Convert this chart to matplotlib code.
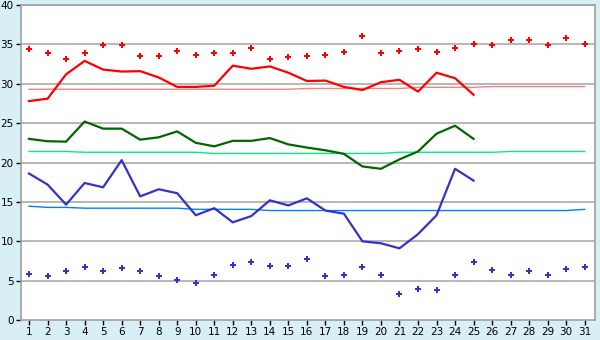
import matplotlib
matplotlib.use("Agg")
import matplotlib.pyplot as plt

days = list(range(1, 32))
days25 = list(range(1, 26))

red_points = [34.37, 33.86, 33.2, 33.86, 34.9, 34.9, 33.5, 33.5, 34.1, 33.7,
              33.86, 33.86, 34.6, 33.1, 33.35, 33.5, 33.6, 34.0, 36.0, 33.86,
              34.1, 34.37, 34.0, 34.6, 35.0, 34.9, 35.6, 35.6, 34.9, 35.77, 35.1]
red_line = [27.8, 28.1, 31.2, 32.9, 31.8, 31.55, 31.6, 30.8, 29.6, 29.6,
            29.75, 32.3, 31.9, 32.2, 31.4, 30.35, 30.4, 29.6, 29.2, 30.2,
            30.5, 29.0, 31.4, 30.7, 28.6]
red_normal = [29.3, 29.3, 29.3, 29.3, 29.3, 29.3, 29.3, 29.3, 29.3, 29.3,
              29.3, 29.3, 29.3, 29.3, 29.3, 29.4, 29.4, 29.4, 29.4, 29.4,
              29.4, 29.55, 29.55, 29.55, 29.55, 29.65, 29.65, 29.65, 29.65, 29.65, 29.65]

green_line = [23.0, 22.7, 22.65, 25.2, 24.3, 24.3, 22.9, 23.2, 23.95, 22.5,
              22.05, 22.75, 22.75, 23.1, 22.3, 21.9, 21.55, 21.1, 19.5, 19.2,
              20.4, 21.4, 23.66, 24.67, 23.0]
green_normal = [21.4, 21.4, 21.4, 21.3, 21.3, 21.3, 21.3, 21.3, 21.3, 21.3,
                21.15, 21.15, 21.15, 21.15, 21.15, 21.15, 21.15, 21.15, 21.15, 21.15,
                21.3, 21.3, 21.3, 21.3, 21.3, 21.3, 21.4, 21.4, 21.4, 21.4, 21.4]

blue_line = [18.6, 17.2, 14.65, 17.4, 16.85, 20.3, 15.7, 16.6, 16.1, 13.3,
             14.2, 12.4, 13.2, 15.2, 14.55, 15.45, 13.9, 13.5, 9.99, 9.74,
             9.1, 10.9, 13.3, 19.2, 17.7]
blue_normal = [14.45, 14.3, 14.3, 14.2, 14.2, 14.2, 14.2, 14.2, 14.2, 14.05,
               14.05, 14.05, 14.05, 13.9, 13.9, 13.9, 13.9, 13.9, 13.9, 13.9,
               13.9, 13.9, 13.9, 13.9, 13.9, 13.9, 13.9, 13.9, 13.9, 13.9, 14.05]
blue_points = [5.88, 5.54, 6.18, 6.69, 6.18, 6.56, 6.18, 5.54, 5.03, 4.65,
               5.67, 6.94, 7.32, 6.81, 6.81, 7.7, 5.54, 5.67, 6.69, 5.67,
               3.26, 3.9, 3.77, 5.67, 7.32, 6.3, 5.67, 6.18, 5.67, 6.43, 6.69]

yticks = [0, 5, 10, 15, 20, 25, 30, 35, 40]

bg = "#d9eff6"
fig = plt.figure(figsize=(6, 3.4), dpi=100, facecolor=bg)
ax = fig.add_axes([0.0345, 0.0588, 0.957, 0.9265])
ax.set_facecolor("white")

for y in yticks[1:]:
    ax.axhline(y, color="#aaaaaa", lw=1.2, zorder=1)

ax.plot(days, red_normal, color="#ff8080", lw=1.0, zorder=2)
ax.plot(days, green_normal, color="#00f080", lw=1.0, zorder=2)
ax.plot(days, blue_normal, color="#0080ff", lw=1.0, zorder=2)

ax.plot(days25, red_line, color="#ff0000", lw=1.6, zorder=3)
ax.plot(days25, green_line, color="#006600", lw=1.6, zorder=3)
ax.plot(days25, blue_line, color="#3333cc", lw=1.6, zorder=3)

ax.plot(days, red_points, ls="none", marker="P", ms=5, color="#ff0000",
        markeredgewidth=0, zorder=4)
ax.plot(days, blue_points, ls="none", marker="P", ms=5, color="#3333cc",
        markeredgewidth=0, zorder=4)

ax.set_xlim(0.55, 31.55)
ax.set_ylim(0, 40)
ax.set_xticks(days)
ax.set_xticklabels([str(d) for d in days])
ax.set_yticks(yticks)
ax.tick_params(axis="both", labelsize=7.5, color="black", length=3.5, width=1,
               direction="out", pad=1.5)
for s in ["left", "bottom", "right", "top"]:
    ax.spines[s].set_color("#a0a0a0")
    ax.spines[s].set_linewidth(1.2)

fig.savefig("out.png", dpi=100, facecolor=bg)
